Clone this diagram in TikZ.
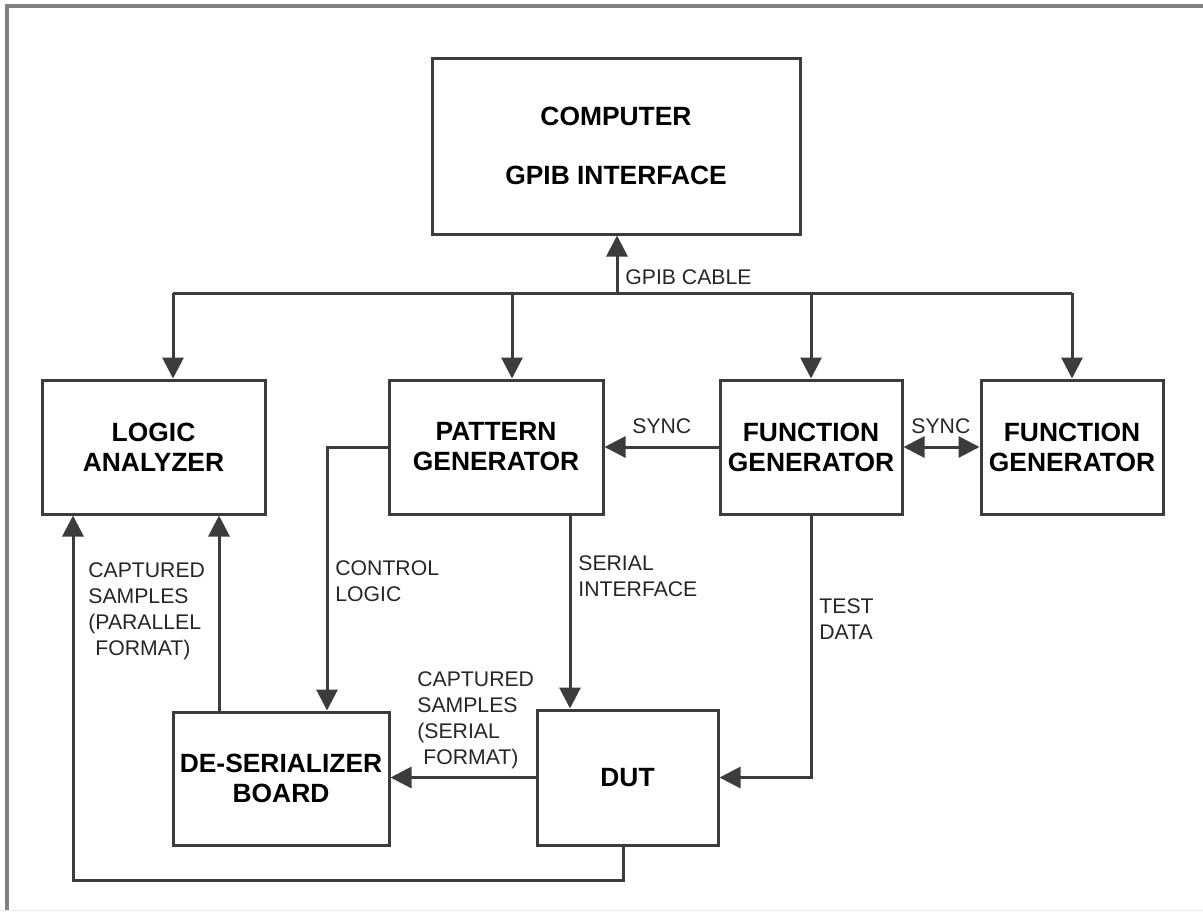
\documentclass[tikz,border=0pt]{standalone}
\usepackage{fontspec}
\setmainfont{Liberation Sans}
\usetikzlibrary{arrows.meta}
\definecolor{ln}{HTML}{3C3C3C}
\definecolor{frm}{HTML}{808080}
\newcommand{\boxfont}{\fontsize{13.2}{15}\selectfont\bfseries}
\newcommand{\lblfont}{\fontsize{10.6}{13}\selectfont}
\begin{document}
\begin{tikzpicture}[x=0.5pt,y=-0.5pt,
  box/.style={draw=ln, line width=1.5pt, rectangle, align=center, inner sep=0pt, font=\boxfont, text=black},
  conn/.style={draw=ln, line width=1.5pt, line join=miter},
  arr/.style={conn, -{Triangle[length=10.5pt,width=10.5pt]}},
  arrtwo/.style={conn, {Triangle[length=10.5pt,width=10.5pt]}-{Triangle[length=10.5pt,width=10.5pt]}},
  lbl/.style={anchor=base west, inner sep=0pt, font=\lblfont, text=black!85}]
\useasboundingbox (0,0) rectangle (1203,911);
% frame
\draw[frm, line width=2pt] (6.5,911) -- (6.5,6) -- (1203,6);
\draw[black!8, line width=0.5pt] (0,910) -- (1203,910);
% boxes
\node[box, minimum width=184pt, minimum height=88pt] (comp) at (616,146) {COMPUTER\\[14.5pt]GPIB INTERFACE};
\node[box, minimum width=111.5pt, minimum height=67pt] (la) at (153.5,447) {LOGIC\\ANALYZER};
\node[box, minimum width=107pt, minimum height=67pt] (pg) at (496,447) {PATTERN\\GENERATOR};
\node[box, minimum width=91pt, minimum height=67pt] (fga) at (811,447) {FUNCTION\\GENERATOR};
\node[box, minimum width=91pt, minimum height=67pt] (fgb) at (1072,447) {FUNCTION\\GENERATOR};
\node[box, minimum width=108pt, minimum height=66.5pt] (des) at (281,778.5) {DE-SERIALIZER\\BOARD};
\node[box, minimum width=90.5pt, minimum height=67.5pt] (dut) at (627.5,777.5) {DUT};
% coordinates
\coordinate (busL) at (173,293);
\coordinate (busR) at (1072,293);
\coordinate (busC) at (617,293);
\coordinate (busPG) at (512,293);
\coordinate (busFG) at (811,293);
\coordinate (cl) at (327,447);
\coordinate (sx) at (570,600);
\coordinate (dl) at (219,600);
\coordinate (lp) at (73,880);
\coordinate (dp) at (623,880);
% connectors
\draw[conn] (busL) -- (busR);
\draw[arr] (busC) -- (comp.south -| busC);
\draw[arr] (busL) -- (la.north -| busL);
\draw[arr] (busPG) -- (pg.north -| busPG);
\draw[arr] (busFG) -- (fga.north);
\draw[arr] (busR) -- (fgb.north);
\draw[arr] (fga.west) -- (pg.east);
\draw[arrtwo] (fga.east) -- (fgb.west);
\draw[arr] (pg.west) -- (cl) -- (des.north -| cl);
\draw[arr] (pg.south -| sx) -- (dut.north -| sx);
\draw[arr] (dut.west) -- (des.east |- dut.west);
\draw[arr] (fga.south) |- (dut.east);
\draw[arr] (des.north -| dl) -- (la.south -| dl);
\draw[arr] (dut.south -| dp) -- (dp) -- (lp) -- (la.south -| lp);
% labels
\node[lbl] (lgpib) at (625,284) {GPIB CABLE};
\node[lbl] (lsynca) at (632,433) {SYNC};
\node[lbl] (lsyncb) at (911,433) {SYNC};
\node[lbl] (lctrl) at (335,575) {\begin{tabular}[t]{@{}l@{}}CONTROL\\LOGIC\end{tabular}};
\node[lbl] (lser) at (578,570) {\begin{tabular}[t]{@{}l@{}}SERIAL\\INTERFACE\end{tabular}};
\node[lbl] (ltest) at (819,613) {\begin{tabular}[t]{@{}l@{}}TEST\\DATA\end{tabular}};
\node[lbl] (lcaps) at (417,686) {\begin{tabular}[t]{@{}l@{}}CAPTURED\\SAMPLES\\(SERIAL\\\hspace{3pt}FORMAT)\end{tabular}};
\node[lbl] (lcapp) at (88,577) {\begin{tabular}[t]{@{}l@{}}CAPTURED\\SAMPLES\\(PARALLEL\\\hspace{3.5pt}FORMAT)\end{tabular}};
\end{tikzpicture}
\end{document}
